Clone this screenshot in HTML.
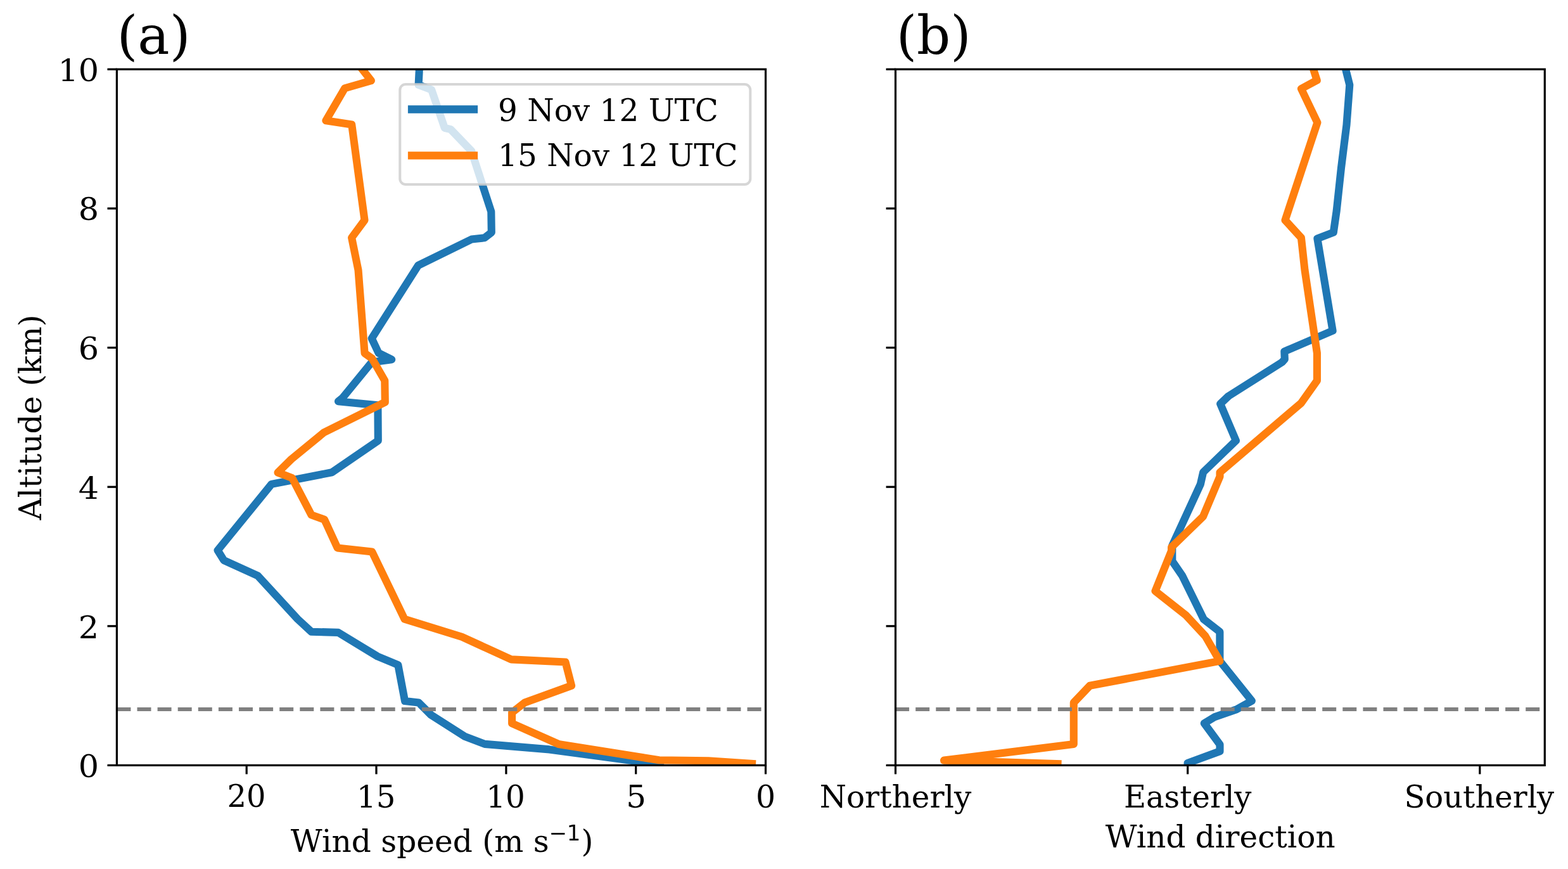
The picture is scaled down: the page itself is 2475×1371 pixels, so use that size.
<!DOCTYPE html>
<html><head><meta charset="utf-8"><title>Wind profiles</title>
<style>html,body{margin:0;padding:0;background:#fff}svg{display:block}text{font-family:"DejaVu Serif","Liberation Serif",serif;fill:#000}.sans{font-family:"DejaVu Sans","Liberation Sans",sans-serif}</style></head><body>
<svg width="2475" height="1371" viewBox="0 0 2475 1371">
<rect width="2475" height="1371" fill="#fff"/>
<clipPath id="c1"><rect x="184.4" y="109.3" width="1024.1" height="1098.1"/></clipPath>
<g clip-path="url(#c1)" fill="none" stroke-linejoin="round" stroke-linecap="square">
<polyline points="663.0,95.0 661.8,109.7 660.6,133.9 681.2,141.7 701.8,201.8 711.5,204.2 744.2,238.2 775.3,333.9 775.8,366.7 764.8,375.2 744.2,377.6 660.1,418.8 586.7,533.9 597.6,557.0 618.2,567.2 586.7,571.5 540.5,628.0 534.0,633.2 596.4,639.4 596.8,695.2 523.9,745.3 428.5,763.9 343.6,868.2 353.3,883.9 406.7,908.2 469.7,976.6 491.5,996.7 533.9,997.9 595.8,1035.5 628.3,1049.0 639.1,1106.1 660.9,1108.5 680.3,1127.9 733.6,1161.8 765.2,1173.9 867.0,1182.4 1042.0,1206.0" stroke="#1f77b4" stroke-width="12.11"/>
<polyline points="560.0,95.0 572.1,109.7 585.9,127.2 544.2,139.3 514.4,190.2 555.2,196.5 575.5,347.3 555.1,375.0 565.5,426.1 575.6,557.3 587.2,565.5 607.3,600.6 607.8,634.5 511.2,682.4 460.0,724.4 438.5,745.5 461.2,754.2 491.5,812.4 512.1,819.7 532.7,864.5 587.3,870.6 638.6,976.8 729.0,1004.8 807.2,1040.4 892.5,1044.5 902.1,1081.8 828.2,1108.5 808.1,1124.2 808.1,1141.2 881.5,1173.9 1040.4,1199.2 1118.0,1200.3 1187.0,1205.0" stroke="#ff7f0e" stroke-width="12.11"/>
<line x1="184.4" y1="1119.0" x2="1208.5" y2="1119.0" stroke="#808080" stroke-width="6.06" stroke-dasharray="22.0 10.1" stroke-dashoffset="0.0" stroke-linecap="butt"/>
</g>
<g stroke="#000" stroke-width="3.23" fill="none">
<line x1="389.2" y1="1207.4" x2="389.2" y2="1221.4"/>
<line x1="594.0" y1="1207.4" x2="594.0" y2="1221.4"/>
<line x1="798.9" y1="1207.4" x2="798.9" y2="1221.4"/>
<line x1="1003.7" y1="1207.4" x2="1003.7" y2="1221.4"/>
<line x1="1208.5" y1="1207.4" x2="1208.5" y2="1221.4"/>
<line x1="184.4" y1="1207.4" x2="169.5" y2="1207.4"/>
<line x1="184.4" y1="987.8" x2="169.5" y2="987.8"/>
<line x1="184.4" y1="768.2" x2="169.5" y2="768.2"/>
<line x1="184.4" y1="548.5" x2="169.5" y2="548.5"/>
<line x1="184.4" y1="328.9" x2="169.5" y2="328.9"/>
<line x1="184.4" y1="109.3" x2="169.5" y2="109.3"/>
<rect x="184.4" y="109.3" width="1024.1" height="1098.1"/>
</g>
<clipPath id="c2"><rect x="1413.5" y="109.3" width="1024.8" height="1098.1"/></clipPath>
<g clip-path="url(#c2)" fill="none" stroke-linejoin="round" stroke-linecap="square">
<polyline points="2120.0,95.0 2124.2,109.7 2130.3,133.9 2125.5,197.0 2117.0,264.8 2109.7,332.7 2104.8,366.7 2079.4,376.4 2103.6,521.8 2027.3,554.5 2027.8,566.7 2023.6,571.5 1939.0,625.0 1926.2,637.2 1950.9,695.2 1899.2,745.0 1894.9,763.9 1850.3,860.9 1850.3,885.2 1866.1,908.2 1900.0,977.0 1925.4,996.8 1925.4,1042.8 1975.9,1105.7 1951.7,1119.3 1917.7,1130.9 1900.8,1141.1 1925.5,1174.6 1925.5,1185.2 1874.6,1203.9 1874.6,1216.0" stroke="#1f77b4" stroke-width="12.11"/>
<polyline points="2070.0,95.0 2073.3,109.7 2078.7,126.7 2053.9,140.0 2079.4,193.3 2028.5,347.3 2053.9,375.2 2059.5,426.1 2078.9,557.0 2078.9,600.6 2053.9,635.8 1925.5,745.3 1925.5,751.8 1899.0,814.9 1849.1,863.3 1849.1,869.0 1823.5,932.5 1871.4,970.2 1902.5,1003.5 1925.3,1042.9 1720.3,1081.8 1694.8,1108.5 1694.8,1173.9 1490.0,1199.6 1669.5,1205.2" stroke="#ff7f0e" stroke-width="12.11"/>
<line x1="1413.5" y1="1119.0" x2="2438.3" y2="1119.0" stroke="#808080" stroke-width="6.06" stroke-dasharray="22.0 10.1" stroke-dashoffset="0.4" stroke-linecap="butt"/>
</g>
<g stroke="#000" stroke-width="3.23" fill="none">
<line x1="1413.5" y1="1207.4" x2="1413.5" y2="1221.4"/>
<line x1="1874.7" y1="1207.4" x2="1874.7" y2="1221.4"/>
<line x1="2335.8" y1="1207.4" x2="2335.8" y2="1221.4"/>
<line x1="1413.5" y1="1207.4" x2="1398.6" y2="1207.4"/>
<line x1="1413.5" y1="987.8" x2="1398.6" y2="987.8"/>
<line x1="1413.5" y1="768.2" x2="1398.6" y2="768.2"/>
<line x1="1413.5" y1="548.5" x2="1398.6" y2="548.5"/>
<line x1="1413.5" y1="328.9" x2="1398.6" y2="328.9"/>
<line x1="1413.5" y1="109.3" x2="1398.6" y2="109.3"/>
<rect x="1413.5" y="109.3" width="1024.8" height="1098.1"/>
</g>
<rect x="631.3" y="133.0" width="553.0" height="158.0" rx="9" ry="9" fill="#fff" fill-opacity="0.8" stroke="#ccc" stroke-opacity="0.8" stroke-width="4.04"/>
<line x1="650.1" y1="172.5" x2="747.9" y2="172.5" stroke="#1f77b4" stroke-width="12.4" stroke-linecap="square"/>
<line x1="650.1" y1="245.4" x2="747.9" y2="245.4" stroke="#ff7f0e" stroke-width="12.4" stroke-linecap="square"/>
<text x="184.4" y="85.1" font-size="84.79" text-anchor="start" textLength="116.24" lengthAdjust="spacingAndGlyphs">(a)</text>
<text x="1414.7" y="85.1" font-size="84.79" text-anchor="start" textLength="118.03" lengthAdjust="spacingAndGlyphs">(b)</text>
<text x="156.2" y="1226.1" font-size="48.45" text-anchor="end" textLength="32.37" lengthAdjust="spacingAndGlyphs">0</text>
<text x="156.2" y="1006.5" font-size="48.45" text-anchor="end" textLength="32.37" lengthAdjust="spacingAndGlyphs">2</text>
<text x="156.2" y="786.9" font-size="48.45" text-anchor="end" textLength="32.37" lengthAdjust="spacingAndGlyphs">4</text>
<text x="156.2" y="567.2" font-size="48.45" text-anchor="end" textLength="32.37" lengthAdjust="spacingAndGlyphs">6</text>
<text x="156.2" y="346.8" font-size="48.45" text-anchor="end" textLength="32.37" lengthAdjust="spacingAndGlyphs">8</text>
<text x="156.2" y="128.0" font-size="48.45" text-anchor="end" textLength="64.72" lengthAdjust="spacingAndGlyphs">10</text>
<text x="388.9" y="1273.2" font-size="48.45" text-anchor="middle" textLength="61.02" lengthAdjust="spacingAndGlyphs">20</text>
<text x="593.7" y="1274.2" font-size="48.45" text-anchor="middle" textLength="61.33" lengthAdjust="spacingAndGlyphs">15</text>
<text x="798.0" y="1274.4" font-size="48.45" text-anchor="middle" textLength="61.64" lengthAdjust="spacingAndGlyphs">10</text>
<text x="1004.0" y="1274.3" font-size="48.45" text-anchor="middle" textLength="31.75" lengthAdjust="spacingAndGlyphs">5</text>
<text x="1208.7" y="1274.2" font-size="48.45" text-anchor="middle" textLength="31.14" lengthAdjust="spacingAndGlyphs">0</text>
<text x="1413.5" y="1274.2" font-size="48.45" text-anchor="middle" textLength="239.57" lengthAdjust="spacingAndGlyphs">Northerly</text>
<text x="1874.7" y="1274.2" font-size="48.45" text-anchor="middle" textLength="201.61" lengthAdjust="spacingAndGlyphs">Easterly</text>
<text x="2334.8" y="1274.2" font-size="48.45" text-anchor="middle" textLength="236.74" lengthAdjust="spacingAndGlyphs">Southerly</text>
<text x="1926.2" y="1337.4" font-size="48.45" text-anchor="middle">Wind direction</text>
<text x="458.8" y="1343.5" font-size="48.45" text-anchor="start" textLength="408.00" lengthAdjust="spacingAndGlyphs">Wind speed (m s</text>
<text class="sans" x="866.4" y="1326.3" font-size="33.91">−1</text>
<text x="917.4" y="1343.5" font-size="48.45" text-anchor="start">)</text>
<text transform="translate(64.5,658.4) rotate(-90)" font-size="48.45" text-anchor="middle">Altitude (km)</text>
<text x="786.1" y="191.1" font-size="48.45" text-anchor="start">9 Nov 12 UTC</text>
<text x="786.1" y="262.1" font-size="48.45" text-anchor="start">15 Nov 12 UTC</text>
</svg></body></html>
